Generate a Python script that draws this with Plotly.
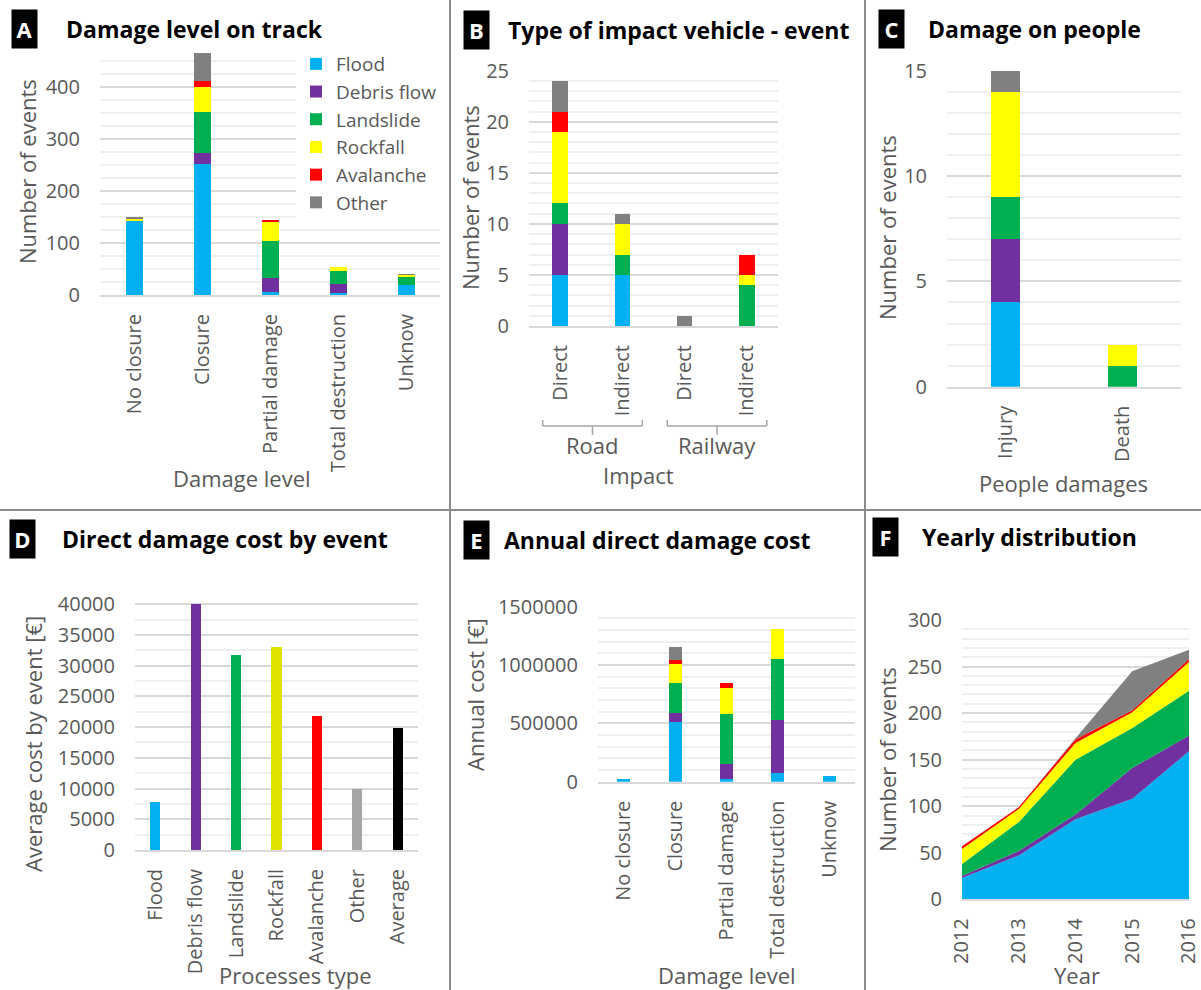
import plotly.graph_objects as go

# ---------------- DATA ----------------
processes = ["Flood", "Debris flow", "Landslide", "Rockfall", "Avalanche", "Other"]
proc_colors = ["#00B0F0", "#7030A0", "#00B050", "#FFFF00", "#FF0000", "#808080"]

# A - Damage level on track
cats_A = ["No closure", "Closure", "Partial damage", "Total destruction", "Unknow"]
A_flood = [143, 252, 5, 3, 19]
A_debris = [0, 20, 27, 19, 0]
A_landslide = [1, 79, 72, 24, 16]
A_rockfall = [3, 49, 38, 8, 4]
A_avalanche = [0, 12, 2, 0, 0]
A_other = [1, 53, 0, 0, 1]

# B - Type of impact vehicle - event
B_groups = ["Road", "Road", "Railway", "Railway"]
B_types = ["Direct", "Indirect", "Direct", "Indirect"]
B_flood = [5, 5, 0, 0]
B_debris = [5, 0, 0, 0]
B_landslide = [2, 2, 0, 4]
B_rockfall = [7, 3, 0, 1]
B_avalanche = [2, 0, 0, 2]
B_other = [3, 1, 1, 0]

# C - Damage on people
cats_C = ["Injury", "Death"]
C_flood = [4, 0]
C_debris = [3, 0]
C_landslide = [2, 1]
C_rockfall = [5, 1]
C_avalanche = [0, 0]
C_other = [1, 0]

# D - Direct damage cost by event
cats_D = ["Flood", "Debris flow", "Landslide", "Rockfall", "Avalanche", "Other", "Average"]
D_cost = [7800, 40100, 31700, 33000, 21800, 10000, 19800]
D_colors = ["#00B0F0", "#7030A0", "#00B050", "#E1E100", "#FF0000", "#A6A6A6", "#000000"]

# E - Annual direct damage cost
cats_E = ["No closure", "Closure", "Partial damage", "Total destruction", "Unknow"]
E_flood = [20000, 510000, 23000, 74000, 51000]
E_debris = [0, 78000, 131000, 454000, 0]
E_landslide = [0, 260000, 423000, 526000, 0]
E_rockfall = [0, 157000, 229000, 254000, 0]
E_avalanche = [0, 35000, 43000, 0, 0]
E_other = [0, 111000, 0, 0, 0]

# F - Yearly distribution
years_F = [2012, 2013, 2014, 2015, 2016]
F_flood = [23, 47, 86, 108, 159]
F_debris = [2, 5, 5, 33, 17]
F_landslide = [13, 31, 59, 43, 48]
F_rockfall = [16, 14, 18, 17, 31]
F_avalanche = [3, 2, 4, 2, 3]
F_other = [0, 0, 1, 42, 10]

# ---------------- LAYOUT HELPERS ----------------
W, H = 1201, 990
FONT = "Open Sans"
GREY = "#595959"


def fx(px):
    return px / W


def fy(py):
    return 1 - py / H


def ydom(y0_px, top_px):
    return [fy(y0_px), fy(top_px)]


fig = go.Figure()

# ---- A ----
A_series = [A_flood, A_debris, A_landslide, A_rockfall, A_avalanche, A_other]
for name, col, vals in zip(processes, proc_colors, A_series):
    fig.add_trace(go.Bar(x=cats_A, y=vals, name=name, marker=dict(color=col, line=dict(width=0)),
                         xaxis="x", yaxis="y", showlegend=True, legendgroup=name))

# ---- B ----
B_keys = [g + " " + t for g, t in zip(B_groups, B_types)]
B_series = [B_flood, B_debris, B_landslide, B_rockfall, B_avalanche, B_other]
for name, col, vals in zip(processes, proc_colors, B_series):
    fig.add_trace(go.Bar(x=B_keys, y=vals, name=name, marker=dict(color=col, line=dict(width=0)),
                         xaxis="x2", yaxis="y2", showlegend=False, legendgroup=name))

# ---- C ----
C_series = [C_flood, C_debris, C_landslide, C_rockfall, C_avalanche, C_other]
for name, col, vals in zip(processes, proc_colors, C_series):
    fig.add_trace(go.Bar(x=cats_C, y=vals, name=name, marker=dict(color=col, line=dict(width=0)),
                         xaxis="x3", yaxis="y3", showlegend=False, legendgroup=name))

# ---- D ----
fig.add_trace(go.Bar(x=cats_D, y=D_cost, marker=dict(color=D_colors, line=dict(width=0)),
                     xaxis="x4", yaxis="y4", showlegend=False, name="Average cost"))

# ---- E ----
E_series = [E_flood, E_debris, E_landslide, E_rockfall, E_avalanche, E_other]
for name, col, vals in zip(processes, proc_colors, E_series):
    fig.add_trace(go.Bar(x=cats_E, y=vals, name=name, marker=dict(color=col, line=dict(width=0)),
                         xaxis="x5", yaxis="y5", showlegend=False, legendgroup=name))

# ---- F ----
F_series = [F_flood, F_debris, F_landslide, F_rockfall, F_avalanche, F_other]
for name, col, vals in zip(processes, proc_colors, F_series):
    fig.add_trace(go.Scatter(x=years_F, y=vals, name=name, mode="none", stackgroup="f",
                             fillcolor=col, xaxis="x6", yaxis="y6", showlegend=False,
                             legendgroup=name))

tickfont = dict(family=FONT, size=20, color=GREY)


def yaxis(dom, rng, dtick, minor, anchor):
    return dict(domain=dom, range=rng, dtick=dtick, anchor=anchor, tickfont=tickfont,
                showgrid=True, gridcolor="#D9D9D9", gridwidth=2, zeroline=False,
                showline=False, ticks="", ticklabelstandoff=19, automargin=False,
                tickformat="d", ticklabeloverflow="allow",
                minor=dict(dtick=minor, showgrid=True, gridcolor="#EFEFEF", gridwidth=1.5),
                fixedrange=True)


def xaxis(dom, anchor, **kw):
    d = dict(domain=dom, anchor=anchor, tickfont=tickfont, tickangle=-90,
             showgrid=False, showline=True, linecolor="#D9D9D9", linewidth=2,
             ticks="", ticklabelstandoff=9, zeroline=False, fixedrange=True,
             automargin=False, ticklabeloverflow="allow")
    d.update(kw)
    return d


fig.update_layout(
    width=W, height=H,
    margin=dict(l=0, r=0, t=0, b=0, autoexpand=False),
    paper_bgcolor="white", plot_bgcolor="white",
    barmode="stack", bargap=0.75,
    font=dict(family=FONT, color=GREY),
    xaxis=xaxis([fx(100), fx(440)], "y"),
    yaxis=yaxis(ydom(295, 53), [0, 465], 100, 25, "x"),
    xaxis2=xaxis([fx(529), fx(778)], "y2", tickmode="array", tickvals=B_keys, ticktext=B_types),
    yaxis2=yaxis(ydom(326, 70.7), [0, 25], 5, 1, "x2"),
    xaxis3=xaxis([fx(947), fx(1181)], "y3"),
    yaxis3=yaxis(ydom(386.7, 70.7), [0, 15], 5, 1, "x3"),
    xaxis4=xaxis([fx(135), fx(418)], "y4"),
    yaxis4=yaxis(ydom(850, 603), [0, 40200], 5000, 2500, "x4"),
    xaxis5=xaxis([fx(598), fx(855)], "y5"),
    yaxis5=yaxis(ydom(781.7, 606.7), [0, 1500000], 500000, 100000, "x5"),
    xaxis6=xaxis([fx(962), fx(1189)], "y6", type="linear", range=[2012, 2016],
                 tickmode="array", tickvals=years_F),
    yaxis6=yaxis(ydom(899.3, 620), [0, 300], 50, 10, "x6"),
    legend=dict(x=fx(296), y=fy(45), xanchor="left", yanchor="top",
                bgcolor="white", font=dict(family=FONT, size=19, color=GREY),
                traceorder="normal", itemclick=False, itemdoubleclick=False,
                tracegroupgap=0),
)

annotations = []
# panel letters and titles
panels = [
    ("A", 11, 29, 64, "Damage level on track"),
    ("B", 463, 30, 506, "Type of impact vehicle - event"),
    ("C", 878, 29, 926, "Damage on people"),
    ("D", 9, 539, 60, "Direct damage cost by event"),
    ("E", 463, 540, 502, "Annual direct damage cost"),
    ("F", 872, 537, 920, "Yearly distribution"),
]
for letter, lx, cy, tx, title in panels:
    annotations.append(dict(text="<b>%s</b>" % letter, x=fx(lx), y=fy(cy), xref="paper", yref="paper",
                            xanchor="left", yanchor="middle", showarrow=False,
                            bgcolor="black", width=21, height=34, borderpad=2,
                            font=dict(family=FONT, size=22, color="white")))
    annotations.append(dict(text="<b>%s</b>" % title, x=fx(tx), y=fy(cy), xref="paper", yref="paper",
                            xanchor="left", yanchor="middle", showarrow=False,
                            font=dict(family=FONT, size=23, color="black")))

# axis titles
ytitles = [
    ("Number of events", 27, 172),
    ("Number of events", 470, 198),
    ("Number of events", 887, 228),
    ("Average cost by event [€]", 33, 744),
    ("Annual cost [€]", 475, 695),
    ("Number of events", 887, 760),
]
for t, x, y in ytitles:
    annotations.append(dict(text=t, x=fx(x), y=fy(y), xref="paper", yref="paper", textangle=-90,
                            xanchor="center", yanchor="middle", showarrow=False,
                            font=dict(family=FONT, size=22, color=GREY)))
xtitles = [
    ("Damage level", 242, 478),
    ("Impact", 638, 475),
    ("People damages", 1063, 483),
    ("Processes type", 295, 975),
    ("Damage level", 727, 975),
    ("Year", 1077, 975),
]
for t, x, y in xtitles:
    annotations.append(dict(text=t, x=fx(x), y=fy(y), xref="paper", yref="paper",
                            xanchor="center", yanchor="middle", showarrow=False,
                            font=dict(family=FONT, size=22, color=GREY)))

# group labels for B
group_names = ["Road", "Railway"]
group_spans = [(B_keys[0], B_keys[1]), (B_keys[2], B_keys[3])]
shapes = []
for gname, (k0, k1) in zip(group_names, group_spans):
    i0, i1 = B_keys.index(k0), B_keys.index(k1)
    left, right = i0 - 0.28, i1 + 0.32
    mid = (left + right) / 2
    line = dict(color="#A6A6A6", width=1.5)
    shapes.append(dict(type="line", xref="x2", yref="paper", x0=left, x1=right,
                       y0=fy(426), y1=fy(426), line=line))
    shapes.append(dict(type="line", xref="x2", yref="paper", x0=left, x1=left,
                       y0=fy(426), y1=fy(420), line=line))
    shapes.append(dict(type="line", xref="x2", yref="paper", x0=right, x1=right,
                       y0=fy(426), y1=fy(420), line=line))
    shapes.append(dict(type="line", xref="x2", yref="paper", x0=mid, x1=mid,
                       y0=fy(426), y1=fy(435), line=line))
    annotations.append(dict(text=gname, x=mid, y=fy(445), xref="x2", yref="paper",
                            xanchor="center", yanchor="middle", showarrow=False,
                            font=dict(family=FONT, size=22, color=GREY)))

# panel separators
sep = dict(color="#8C8C8C", width=2)
shapes.append(dict(type="line", xref="paper", yref="paper", x0=fx(450), x1=fx(450), y0=0, y1=1, line=sep))
shapes.append(dict(type="line", xref="paper", yref="paper", x0=fx(865), x1=fx(865), y0=0, y1=1, line=sep))
shapes.append(dict(type="line", xref="paper", yref="paper", x0=0, x1=1, y0=fy(510), y1=fy(510), line=sep))

fig.update_layout(annotations=annotations, shapes=shapes)

fig.write_html("out.html", config={"displayModeBar": False},
               post_script="document.body.style.margin='0';document.body.style.overflow='hidden';")
